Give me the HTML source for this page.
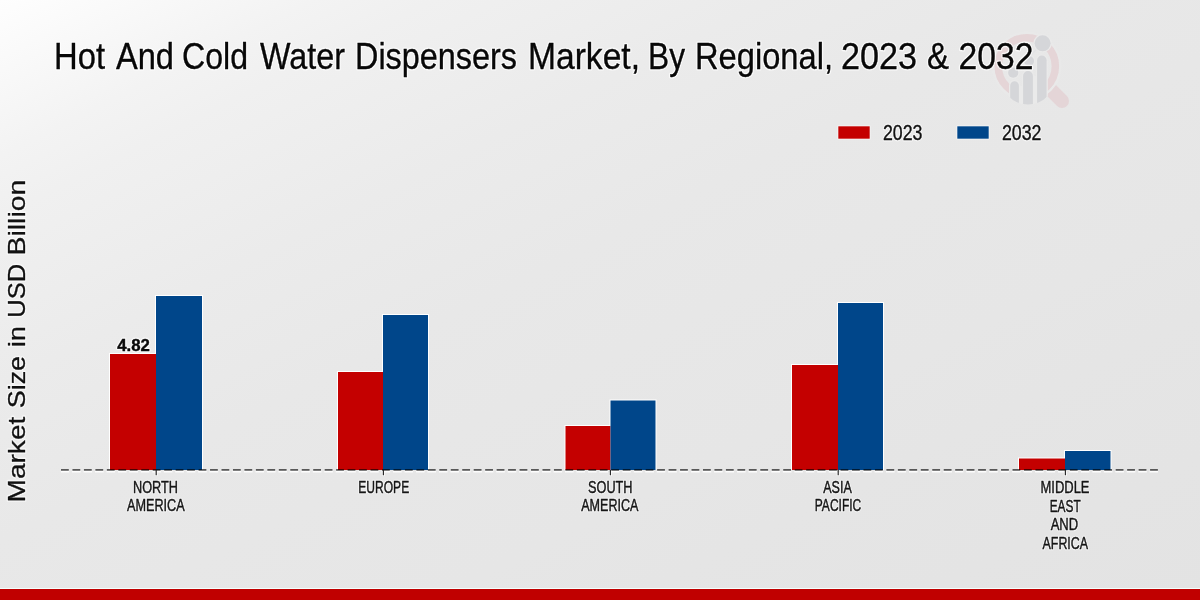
<!DOCTYPE html>
<html>
<head>
<meta charset="utf-8">
<style>
html,body{margin:0;padding:0;}
body{width:1200px;height:600px;overflow:hidden;position:relative;
background:linear-gradient(to bottom right,#fefefe 0%,#f3f3f3 13%,#f0f0f0 18%,#ebebeb 32%,#e8e8e8 45%,#e7e7e7 55%,#e6e6e6 68%,#e5e5e5 76%,#e3e3e3 100%);}
svg{position:absolute;left:0;top:0;will-change:transform;}
text{font-family:"Liberation Sans",sans-serif;}
</style>
</head>
<body>
<svg width="1200" height="600" viewBox="0 0 1200 600">
  <!-- logo -->
  <defs>
    <clipPath id="lc"><circle cx="1028" cy="77.2" r="27.4"/><rect x="1000" y="30" width="60" height="47.2"/></clipPath>
  </defs>
  <g>
    <line x1="1051" y1="90" x2="1062" y2="101" stroke="#e4d5d7" stroke-width="14" stroke-linecap="round"/>
    <circle cx="1026.8" cy="66.2" r="33.5" fill="none" stroke="#e9e9e9" stroke-width="2.4"/>
    <circle cx="1026.8" cy="66.2" r="28.55" fill="none" stroke="#e5d5d7" stroke-width="7.5"/>
    <g fill="#d5d6d9" stroke="#eaeaea" stroke-width="2.4" style="paint-order:stroke">
      <g clip-path="url(#lc)">
        <rect x="1018" y="86" width="6" height="30" fill="#eaeaea" stroke="none"/>
        <rect x="1032" y="76" width="6" height="40" fill="#eaeaea" stroke="none"/>
        <path d="M1010.2,85.5 a4.35,4.35 0 0 1 8.7,0 V110 h-8.7 Z"/>
        <path d="M1023.1,75.9 a4.9,4.9 0 0 1 9.8,0 V110 h-9.8 Z"/>
        <path d="M1037.1,60.35 a4.75,4.75 0 0 1 9.5,0 V110 h-9.5 Z"/>
      </g>
      <line x1="1013.2" y1="72.7" x2="1042.6" y2="43.3" stroke="#e2e2e4" stroke-width="1.2"/>
      <circle cx="1013.2" cy="72.7" r="5.1"/>
      <circle cx="1029" cy="61" r="5"/>
      <circle cx="1042.6" cy="43.3" r="8"/>
    </g>
  </g>

  <!-- title -->
  <g font-size="36.8" fill="none" stroke="#ffffff" stroke-opacity="0.75" stroke-width="3" stroke-linejoin="round">
    <text x="54.00" y="69" textLength="51.00" lengthAdjust="spacingAndGlyphs">Hot</text>
    <text x="116.00" y="69" textLength="58.00" lengthAdjust="spacingAndGlyphs">And</text>
    <text x="182.00" y="69" textLength="66.00" lengthAdjust="spacingAndGlyphs">Cold</text>
    <text x="260.00" y="69" textLength="85.00" lengthAdjust="spacingAndGlyphs">Water</text>
    <text x="355.00" y="69" textLength="162.00" lengthAdjust="spacingAndGlyphs">Dispensers</text>
    <text x="528.00" y="69" textLength="112.00" lengthAdjust="spacingAndGlyphs">Market,</text>
    <text x="648.00" y="69" textLength="37.00" lengthAdjust="spacingAndGlyphs">By</text>
    <text x="695.00" y="69" textLength="138.00" lengthAdjust="spacingAndGlyphs">Regional,</text>
    <text x="841.00" y="69" textLength="76.00" lengthAdjust="spacingAndGlyphs">2023</text>
    <text x="927.00" y="69" textLength="22.00" lengthAdjust="spacingAndGlyphs">&amp;</text>
    <text x="958.60" y="69" textLength="74.80" lengthAdjust="spacingAndGlyphs">2032</text>
  </g>
  <g font-size="36.8" fill="#080808" stroke="#080808" stroke-width="0.35">
    <text x="54.00" y="69" textLength="51.00" lengthAdjust="spacingAndGlyphs">Hot</text>
    <text x="116.00" y="69" textLength="58.00" lengthAdjust="spacingAndGlyphs">And</text>
    <text x="182.00" y="69" textLength="66.00" lengthAdjust="spacingAndGlyphs">Cold</text>
    <text x="260.00" y="69" textLength="85.00" lengthAdjust="spacingAndGlyphs">Water</text>
    <text x="355.00" y="69" textLength="162.00" lengthAdjust="spacingAndGlyphs">Dispensers</text>
    <text x="528.00" y="69" textLength="112.00" lengthAdjust="spacingAndGlyphs">Market,</text>
    <text x="648.00" y="69" textLength="37.00" lengthAdjust="spacingAndGlyphs">By</text>
    <text x="695.00" y="69" textLength="138.00" lengthAdjust="spacingAndGlyphs">Regional,</text>
    <text x="841.00" y="69" textLength="76.00" lengthAdjust="spacingAndGlyphs">2023</text>
    <text x="927.00" y="69" textLength="22.00" lengthAdjust="spacingAndGlyphs">&amp;</text>
    <text x="958.60" y="69" textLength="74.80" lengthAdjust="spacingAndGlyphs">2032</text>
  </g>

  <!-- legend -->
  <rect x="838" y="126" width="32" height="13" fill="#c40000" stroke="#fff" stroke-width="0.6"/>
  <text x="883" y="139.6" font-size="21.8" fill="none" stroke="#fff" stroke-opacity="0.6" stroke-width="2.8" stroke-linejoin="round" textLength="39.5" lengthAdjust="spacingAndGlyphs">2023</text>
  <text x="883" y="139.6" font-size="21.8" fill="#111" stroke="#111" stroke-width="0.4" textLength="39.5" lengthAdjust="spacingAndGlyphs">2023</text>
  <rect x="957" y="126" width="32" height="13" fill="#00468a" stroke="#fff" stroke-width="0.6"/>
  <text x="1002" y="139.6" font-size="21.8" fill="none" stroke="#fff" stroke-opacity="0.6" stroke-width="2.8" stroke-linejoin="round" textLength="39.5" lengthAdjust="spacingAndGlyphs">2032</text>
  <text x="1002" y="139.6" font-size="21.8" fill="#111" stroke="#111" stroke-width="0.4" textLength="39.5" lengthAdjust="spacingAndGlyphs">2032</text>

  <!-- y label halo -->
  <g font-size="24" fill="none" stroke="#fff" stroke-opacity="0.6" stroke-width="2.8" stroke-linejoin="round">
    <text transform="translate(25.3,502.5) rotate(-90)" textLength="85.8" lengthAdjust="spacingAndGlyphs">Market</text>
    <text transform="translate(25.3,408.3) rotate(-90)" textLength="52.4" lengthAdjust="spacingAndGlyphs">Size</text>
    <text transform="translate(25.3,346.9) rotate(-90)" textLength="20.6" lengthAdjust="spacingAndGlyphs">in</text>
    <text transform="translate(25.3,317.8) rotate(-90)" textLength="53.9" lengthAdjust="spacingAndGlyphs">USD</text>
    <text transform="translate(25.3,255.5) rotate(-90)" textLength="75.8" lengthAdjust="spacingAndGlyphs">Billion</text>
  </g>

  <!-- y label -->
  <g font-size="24" fill="#111" stroke="#111" stroke-width="0.3">
    <text transform="translate(25.3,502.5) rotate(-90)" textLength="85.8" lengthAdjust="spacingAndGlyphs">Market</text>
    <text transform="translate(25.3,408.3) rotate(-90)" textLength="52.4" lengthAdjust="spacingAndGlyphs">Size</text>
    <text transform="translate(25.3,346.9) rotate(-90)" textLength="20.6" lengthAdjust="spacingAndGlyphs">in</text>
    <text transform="translate(25.3,317.8) rotate(-90)" textLength="53.9" lengthAdjust="spacingAndGlyphs">USD</text>
    <text transform="translate(25.3,255.5) rotate(-90)" textLength="75.8" lengthAdjust="spacingAndGlyphs">Billion</text>
  </g>

  <!-- bars -->
  <g fill="#ffffff">
    <rect x="109" y="353" width="48" height="117"/>
    <rect x="155" y="295" width="48" height="175"/>
    <rect x="337" y="371" width="47" height="99"/>
    <rect x="382" y="314" width="47" height="156"/>
    <rect x="564.5" y="425" width="47.0" height="45"/>
    <rect x="609.5" y="399.5" width="47.0" height="70.5"/>
    <rect x="791" y="364" width="48" height="106"/>
    <rect x="837" y="302" width="47" height="168"/>
    <rect x="1018" y="457.5" width="48" height="12.5"/>
    <rect x="1064" y="450" width="47.5" height="20"/>
  </g>
  <rect x="110" y="354" width="46" height="116" fill="#c40000"/>
  <rect x="156" y="296" width="46" height="174" fill="#00468a"/>
  <rect x="338" y="372" width="45" height="98" fill="#c40000"/>
  <rect x="383" y="315" width="45" height="155" fill="#00468a"/>
  <rect x="565.5" y="426" width="45.0" height="44" fill="#c40000"/>
  <rect x="610.5" y="400.5" width="45.0" height="69.5" fill="#00468a"/>
  <rect x="792" y="365" width="46" height="105" fill="#c40000"/>
  <rect x="838" y="303" width="45" height="167" fill="#00468a"/>
  <rect x="1019" y="458.5" width="46" height="11.5" fill="#c40000"/>
  <rect x="1065" y="451" width="45.5" height="19" fill="#00468a"/>

  <!-- axis -->
  <line x1="61" y1="471.6" x2="1158" y2="471.6" stroke="#ffffff" stroke-width="1.6" stroke-opacity="0.9" stroke-dasharray="8.6 2.864" stroke-dashoffset="0.4"/>
  <line x1="61" y1="469.9" x2="1158" y2="469.9" stroke="#000" stroke-opacity="0.62" stroke-width="1.7" stroke-dasharray="7.8 3.664"/>
  <g stroke="#ffffff" stroke-opacity="0.7" stroke-width="3">
    <line x1="156.2" y1="471.5" x2="156.2" y2="476"/>
    <line x1="383.4" y1="471.5" x2="383.4" y2="476"/>
    <line x1="610.4" y1="471.5" x2="610.4" y2="476"/>
    <line x1="838.2" y1="471.5" x2="838.2" y2="476"/>
    <line x1="1065.4" y1="471.5" x2="1065.4" y2="476"/>
  </g>
  <g stroke="#2a2a2a" stroke-width="1.2">
    <line x1="156.2" y1="470" x2="156.2" y2="475.3"/>
    <line x1="383.4" y1="470" x2="383.4" y2="475.3"/>
    <line x1="610.4" y1="470" x2="610.4" y2="475.3"/>
    <line x1="838.2" y1="470" x2="838.2" y2="475.3"/>
    <line x1="1065.4" y1="470" x2="1065.4" y2="475.3"/>
  </g>

  <!-- value label -->
  <text x="117.2" y="350.8" font-size="16.5" font-weight="bold" fill="none" stroke="#fff" stroke-opacity="0.7" stroke-width="2.8" stroke-linejoin="round" textLength="32.6" lengthAdjust="spacingAndGlyphs">4.82</text>
  <text x="117.2" y="350.8" font-size="16.5" font-weight="bold" fill="#0a0a0a" stroke="#0a0a0a" stroke-width="0.4" textLength="32.6" lengthAdjust="spacingAndGlyphs">4.82</text>

  <!-- x labels halo -->
  <g font-size="16.5" fill="none" stroke="#ffffff" stroke-opacity="0.6" stroke-width="2.6" stroke-linejoin="round" text-anchor="middle">
    <text x="155.5" y="493" textLength="45" lengthAdjust="spacingAndGlyphs">NORTH</text>
    <text x="155.8" y="511.3" textLength="57.7" lengthAdjust="spacingAndGlyphs">AMERICA</text>
    <text x="383.7" y="493" textLength="51" lengthAdjust="spacingAndGlyphs">EUROPE</text>
    <text x="610.3" y="493" textLength="44.5" lengthAdjust="spacingAndGlyphs">SOUTH</text>
    <text x="609.8" y="511.3" textLength="57.3" lengthAdjust="spacingAndGlyphs">AMERICA</text>
    <text x="837.5" y="493" textLength="28.5" lengthAdjust="spacingAndGlyphs">ASIA</text>
    <text x="838" y="511.3" textLength="46.5" lengthAdjust="spacingAndGlyphs">PACIFIC</text>
    <text x="1065" y="493" textLength="49" lengthAdjust="spacingAndGlyphs">MIDDLE</text>
    <text x="1065.2" y="511.6" textLength="31" lengthAdjust="spacingAndGlyphs">EAST</text>
    <text x="1064.4" y="530.2" textLength="27.5" lengthAdjust="spacingAndGlyphs">AND</text>
    <text x="1065.3" y="548.8" textLength="45.5" lengthAdjust="spacingAndGlyphs">AFRICA</text>
  </g>

  <!-- x labels -->
  <g font-size="16.5" fill="#161616" stroke="#161616" stroke-width="0.45" text-anchor="middle">
    <text x="155.5" y="493" textLength="45" lengthAdjust="spacingAndGlyphs">NORTH</text>
    <text x="155.8" y="511.3" textLength="57.7" lengthAdjust="spacingAndGlyphs">AMERICA</text>
    <text x="383.7" y="493" textLength="51" lengthAdjust="spacingAndGlyphs">EUROPE</text>
    <text x="610.3" y="493" textLength="44.5" lengthAdjust="spacingAndGlyphs">SOUTH</text>
    <text x="609.8" y="511.3" textLength="57.3" lengthAdjust="spacingAndGlyphs">AMERICA</text>
    <text x="837.5" y="493" textLength="28.5" lengthAdjust="spacingAndGlyphs">ASIA</text>
    <text x="838" y="511.3" textLength="46.5" lengthAdjust="spacingAndGlyphs">PACIFIC</text>
    <text x="1065" y="493" textLength="49" lengthAdjust="spacingAndGlyphs">MIDDLE</text>
    <text x="1065.2" y="511.6" textLength="31" lengthAdjust="spacingAndGlyphs">EAST</text>
    <text x="1064.4" y="530.2" textLength="27.5" lengthAdjust="spacingAndGlyphs">AND</text>
    <text x="1065.3" y="548.8" textLength="45.5" lengthAdjust="spacingAndGlyphs">AFRICA</text>
  </g>

  <!-- bottom bar -->
  <rect x="0" y="588" width="1200" height="1" fill="#f4fffe"/>
  <rect x="0" y="589" width="1200" height="11" fill="#c00000"/>
</svg>
</body>
</html>
